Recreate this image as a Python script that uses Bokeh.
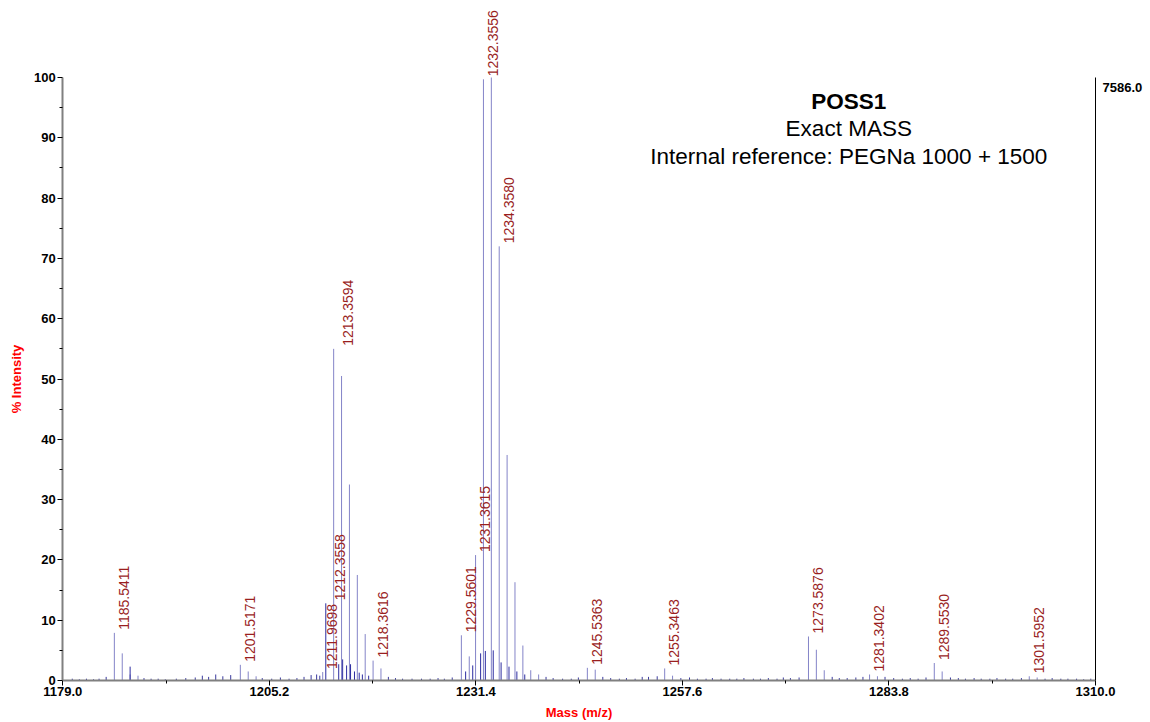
from math import pi
from bokeh.plotting import figure
from bokeh.models import (ColumnDataSource, LabelSet, Label, FixedTicker,
                          LinearAxis, Range1d, PrintfTickFormatter)
from bokeh.embed import file_html
from bokeh.resources import INLINE
from bokeh.core.properties import value

# ---------------- data ----------------
peak_mz = [1185.54, 1186.54, 1187.54, 1188.54,
           1201.52, 1202.52, 1203.52,
           1211.97, 1213.36, 1214.36, 1215.36, 1216.36, 1217.36, 1218.36, 1219.36,
           1229.56, 1230.56, 1231.36, 1232.36, 1233.36, 1234.36, 1235.36, 1236.36,
           1237.36, 1238.36, 1239.36,
           1245.54, 1246.54,
           1255.35, 1256.35,
           1273.59, 1274.59, 1275.59,
           1281.34, 1282.34,
           1289.55, 1290.55,
           1301.60, 1302.60]
peak_int = [7.9, 4.5, 1.0, 0.8,
            2.6, 1.5, 0.7,
            1.4, 55.0, 50.5, 32.5, 17.5, 7.7, 3.3, 2.0,
            7.5, 4.0, 20.8, 99.7, 100.0, 72.0, 37.4, 16.3,
            5.8, 1.7, 1.0,
            2.1, 1.8,
            2.0, 0.8,
            7.3, 5.1, 1.7,
            1.0, 0.7,
            2.9, 1.5,
            0.7, 0.5]

dark_mz = [1187.54, 1212.36, 1214.0, 1214.5, 1215.0, 1215.5, 1216.0, 1216.6,
           1217.0, 1217.8, 1230.1, 1231.0, 1232.0, 1232.6, 1233.6, 1234.6,
           1235.6, 1236.6, 1237.6]
dark_int = [2.3, 12.8, 2.7, 3.5, 2.5, 2.7, 1.5, 1.3,
            1.0, 0.8, 1.5, 2.5, 4.5, 4.9, 5.0, 3.0,
            2.3, 1.5, 1.0]

noise_mz = [1180.2, 1181.1, 1182.0, 1182.9, 1183.6, 1184.5, 1189.3, 1190.2, 1191.1,
            1192.0, 1193.4, 1194.6, 1195.8, 1196.7, 1197.5, 1198.4, 1199.3, 1200.3,
            1204.3, 1205.5, 1206.6, 1207.7, 1208.7, 1209.6, 1210.5, 1211.2, 1211.6,
            1220.3, 1221.2, 1222.1, 1223.3, 1224.5, 1225.6, 1226.6, 1227.4, 1228.4,
            1240.3, 1241.2, 1242.4, 1243.5, 1244.4, 1247.5, 1248.5, 1249.6, 1250.5,
            1251.6, 1252.5, 1253.3, 1254.4, 1257.4, 1258.5, 1259.5, 1260.6, 1261.4,
            1262.5, 1263.6, 1264.5, 1265.4, 1266.6, 1267.5, 1268.5, 1269.6, 1270.4,
            1271.3, 1272.4, 1276.6, 1277.5, 1278.5, 1279.6, 1280.5, 1283.3, 1284.4,
            1285.5, 1286.5, 1287.5, 1288.5, 1291.6, 1292.6, 1293.5, 1294.6, 1295.5,
            1296.6, 1297.5, 1298.6, 1299.5, 1300.6, 1303.6, 1304.5, 1305.6, 1306.5,
            1307.6, 1308.5, 1309.4]
noise_int = [0.3, 0.2, 0.3, 0.2, 0.3, 0.6, 0.4, 0.3, 0.3,
             0.2, 0.3, 0.4, 0.5, 0.8, 0.6, 1.0, 0.7, 0.9,
             0.4, 0.3, 0.5, 0.3, 0.4, 0.6, 0.9, 1.0, 0.8,
             0.6, 0.4, 0.3, 0.3, 0.3, 0.3, 0.4, 0.3, 0.5,
             0.6, 0.4, 0.3, 0.3, 0.5, 0.6, 0.4, 0.3, 0.4,
             0.3, 0.6, 0.6, 0.7, 0.4, 0.5, 0.3, 0.3, 0.4,
             0.3, 0.3, 0.3, 0.4, 0.3, 0.3, 0.4, 0.3, 0.5,
             0.4, 0.5, 0.6, 0.4, 0.4, 0.5, 0.6, 0.6, 0.4,
             0.3, 0.4, 0.3, 0.5, 0.5, 0.4, 0.3, 0.4, 0.3,
             0.3, 0.4, 0.3, 0.3, 0.4, 0.3, 0.4, 0.3, 0.3,
             0.3, 0.2, 0.3]

label_mz = [1185.5411, 1201.5171, 1211.9698, 1212.3558, 1213.3594, 1218.3616,
            1229.5601, 1231.3615, 1232.3556, 1234.3580, 1245.5363, 1255.3463,
            1273.5876, 1281.3402, 1289.5530, 1301.5952]
label_int = [7.9, 2.6, 1.4, 12.8, 55.0, 3.3,
             7.5, 20.8, 99.7, 72.0, 2.1, 2.0,
             7.3, 1.0, 2.9, 0.7]
label_txt = ["%.4f" % m for m in label_mz]

x_ticks = [1179.0, 1205.2, 1231.4, 1257.6, 1283.8, 1310.0]
x_minor = [1192.1, 1218.3, 1244.5, 1270.7, 1296.9]
y_ticks = [0, 10, 20, 30, 40, 50, 60, 70, 80, 90, 100]
y_minor = [5, 15, 25, 35, 45, 55, 65, 75, 85, 95]

title_lines = ["POSS1", "Exact MASS", "Internal reference: PEGNa 1000 + 1500"]
max_counts = "7586.0"

# ---------------- layout ----------------
W, H = 1150, 722
X0, X1 = 1179.0, 1310.0          # axis extent (m/z)
Y0, Y1 = 0.0, 100.0              # axis extent (%)
FL, FR = 62.3, 1095.0            # where the axis box sits in the canvas (px)
FT, FB = 77.0, 680.0
kx = (FR - FL) / (X1 - X0)
ky = (FB - FT) / (Y1 - Y0)
x_rng = Range1d(X0 - FL / kx, X1 + (W - FR) / kx)
y_rng = Range1d(Y0 - (H - FB) / ky, Y1 + FT / ky)

p = figure(width=W, height=H, x_range=x_rng, y_range=y_rng,
           output_backend="svg", toolbar_location=None,
           min_border_left=0, min_border_right=0, min_border_top=0,
           min_border_bottom=0)
p.xgrid.visible = False
p.ygrid.visible = False
p.outline_line_color = None
p.background_fill_color = "white"
p.border_fill_color = "white"

FONT = "Liberation Sans"

xa = p.xaxis[0]
xa.fixed_location = Y0
xa.bounds = (X0, X1)
xa.ticker = FixedTicker(ticks=x_ticks, minor_ticks=x_minor)
xa.formatter = PrintfTickFormatter(format="%.1f")
xa.axis_line_color = "#808080"
xa.axis_line_width = 2
xa.major_tick_line_color = "black"
xa.minor_tick_line_color = "black"
xa.major_tick_in = 0
xa.major_tick_out = 5
xa.minor_tick_in = 0
xa.minor_tick_out = 3
xa.major_label_standoff = 1
xa.major_label_text_font = FONT
xa.major_label_text_font_style = "bold"
xa.major_label_text_font_size = "13px"
xa.major_label_text_color = "black"
xa.axis_label = "Mass (m/z)"
xa.axis_label_text_font = FONT
xa.axis_label_text_font_style = "bold"
xa.axis_label_text_font_size = "13px"
xa.axis_label_text_color = "#ff0000"
xa.axis_label_standoff = 6

ya = p.yaxis[0]
ya.fixed_location = X0
ya.bounds = (Y0, Y1)
ya.ticker = FixedTicker(ticks=y_ticks, minor_ticks=y_minor)
ya.formatter = PrintfTickFormatter(format="%d")
ya.axis_line_color = "#808080"
ya.axis_line_width = 2
ya.major_tick_line_color = "black"
ya.minor_tick_line_color = "black"
ya.major_tick_in = 0
ya.major_tick_out = 5
ya.minor_tick_in = 0
ya.minor_tick_out = 3
ya.major_label_standoff = 2
ya.major_label_text_font = FONT
ya.major_label_text_font_style = "bold"
ya.major_label_text_font_size = "13px"
ya.major_label_text_color = "black"
ya.axis_label = "% Intensity"
ya.axis_label_text_font = FONT
ya.axis_label_text_font_style = "bold"
ya.axis_label_text_font_size = "13px"
ya.axis_label_text_color = "#ff0000"
ya.axis_label_standoff = 7

ra = LinearAxis(ticker=FixedTicker(ticks=[]), axis_line_color="black",
                axis_line_width=1, major_tick_line_color=None,
                minor_tick_line_color=None, fixed_location=X1,
                bounds=(Y0, Y1))
p.add_layout(ra, "right")

# ---------------- spectrum sticks ----------------
p.segment(x0=noise_mz, y0=[0] * len(noise_mz), x1=noise_mz, y1=noise_int,
          line_color="#3a3a9e", line_width=1)
p.segment(x0=peak_mz, y0=[0] * len(peak_mz), x1=peak_mz, y1=peak_int,
          line_color="#8484c8", line_width=1)
p.segment(x0=dark_mz, y0=[0] * len(dark_mz), x1=dark_mz, y1=dark_int,
          line_color="#2c2ca0", line_width=1)

# ---------------- peak labels (simple collision avoidance) ----------------
base_off = 9.5
min_gap = 8.0
offs = []
prev = None
for m in label_mz:
    sx = (m - X0) * kx + base_off
    if prev is not None and sx < prev + min_gap:
        sx = prev + min_gap
    offs.append(sx - (m - X0) * kx)
    prev = sx

src = ColumnDataSource(dict(x=label_mz, y=label_int, t=label_txt, dx=offs))
p.add_layout(LabelSet(x="x", y="y", text="t", source=src, angle=pi / 2,
                      x_offset="dx", y_offset=3,
                      text_align="left", text_baseline="middle",
                      text_font=value(FONT), text_font_size="14px",
                      text_color="#9a1f1f"))

# ---------------- title block ----------------
tx = 1278.7
for i, (txt, yy) in enumerate(zip(title_lines, [96.0, 91.5, 86.9])):
    p.add_layout(Label(x=tx, y=yy, text=txt, text_align="center",
                       text_baseline="middle", text_font=FONT,
                       text_font_size="22.5px",
                       text_font_style="bold" if i == 0 else "normal",
                       text_color="black"))

p.add_layout(Label(x=X1, y=98.3, x_offset=7, text=max_counts,
                   text_align="left", text_baseline="middle",
                   text_font=FONT, text_font_size="13px",
                   text_font_style="bold", text_color="black"))

open("out.html", "w").write(file_html(p, INLINE))
